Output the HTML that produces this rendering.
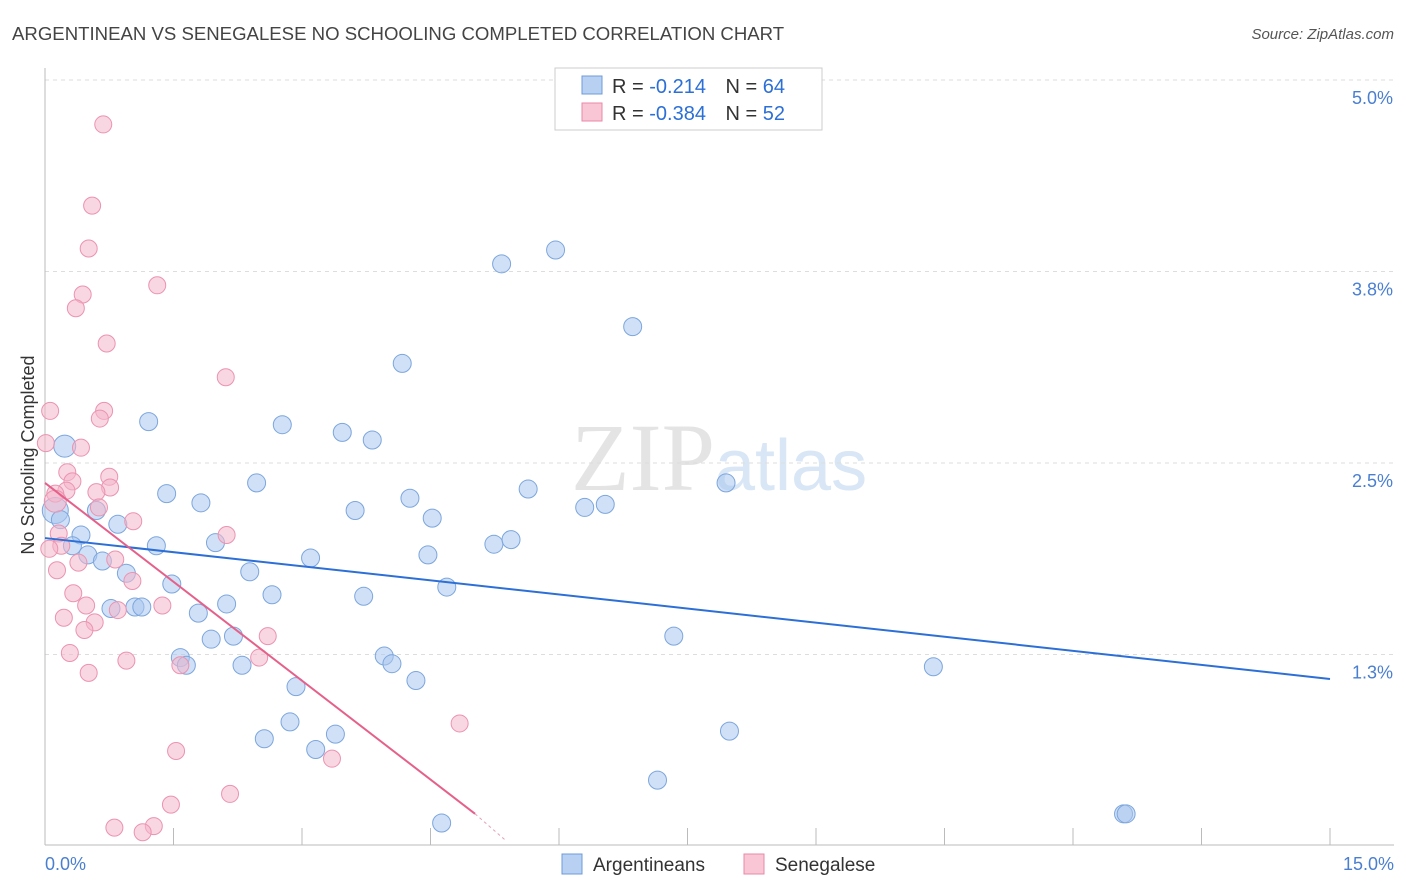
<!DOCTYPE html>
<html><head><meta charset="utf-8">
<style>
body{margin:0;background:#fff;font-family:"Liberation Sans",sans-serif;}
svg{display:block}
</style></head>
<body>
<svg id="chart" width="1406" height="892">
<text x="12" y="40" font-size="18.6" fill="#444">ARGENTINEAN VS SENEGALESE NO SCHOOLING COMPLETED CORRELATION CHART</text>
<text x="1394" y="39" font-size="15" fill="#555" font-style="italic" text-anchor="end">Source: ZipAtlas.com</text>
<text x="715" y="490" font-size="96" fill="#e4e4e4" text-anchor="end" font-family="Liberation Serif">ZIP</text>
<text x="715" y="490" font-size="72" fill="#d8e6f6">atlas</text>
<g id="grid"></g>
<g id="marks"></g>
<text transform="translate(34,455) rotate(-90)" font-size="18" fill="#333" text-anchor="middle">No Schooling Completed</text>
<g>
<rect x="555" y="68" width="267" height="62" fill="#fff" stroke="#ccc"/>
<rect x="582" y="76" width="20" height="18" fill="#b8d0f2" stroke="#6c9bd8"/>
<rect x="582" y="103" width="20" height="18" fill="#f8c6d5" stroke="#e88aa8"/>
<text x="612" y="93" font-size="20" fill="#333">R = <tspan fill="#2c6fd6">-0.214</tspan>  <tspan dx="14">N = </tspan><tspan fill="#2c6fd6">64</tspan></text>
<text x="612" y="120" font-size="20" fill="#333">R = <tspan fill="#2c6fd6">-0.384</tspan>  <tspan dx="14">N = </tspan><tspan fill="#2c6fd6">52</tspan></text>
</g>
<g>
<rect x="562" y="854" width="20" height="20" fill="#b8d0f2" stroke="#6c9bd8"/>
<text x="593" y="871" font-size="19" fill="#333">Argentineans</text>
<rect x="744" y="854" width="20" height="20" fill="#f8c6d5" stroke="#e88aa8"/>
<text x="775" y="871" font-size="19" fill="#333">Senegalese</text>
</g>
</svg>
<script>
const yTicks=[5.0,3.75,2.5,1.25];
const yTickLabels=["5.0%","3.8%","2.5%","1.3%"];
const xTickLabels=["0.0%","15.0%"];
const blueX=[0.23,0.12,1.21,2.77,3.47,3.82,4.17,5.33,5.96,6.86,1.42,1.82,2.47,3.62,4.26,4.52,5.64,6.30,6.54,7.95,0.60,0.85,0.42,0.32,0.50,0.67,0.95,1.30,1.48,1.99,2.39,3.10,4.47,4.69,5.24,5.44,0.77,1.05,1.13,1.79,2.12,2.65,3.72,1.94,2.20,1.58,1.65,2.30,3.96,4.05,4.33,2.93,7.34,10.37,2.86,2.56,3.16,3.39,7.99,7.15,4.63,12.59,12.62,0.18];
const blueY=[2.61,2.19,2.77,2.75,2.70,2.65,3.15,3.80,3.89,3.39,2.30,2.24,2.37,2.19,2.27,2.14,2.33,2.21,2.23,2.37,2.19,2.10,2.03,1.96,1.90,1.86,1.78,1.96,1.71,1.98,1.79,1.88,1.90,1.69,1.97,2.00,1.55,1.56,1.56,1.52,1.58,1.64,1.63,1.35,1.37,1.23,1.18,1.18,1.24,1.19,1.08,1.04,1.37,1.17,0.81,0.70,0.63,0.73,0.75,0.43,0.15,0.21,0.21,2.13];
const blueR=[11,13,9,9,9,9,9,9,9,9,9,9,9,9,9,9,9,9,9,9,9,9,9,9,9,9,9,9,9,9,9,9,9,9,9,9,9,9,9,9,9,9,9,9,9,9,9,9,9,9,9,9,9,9,9,9,9,9,9,9,9,9,9,9];
const pinkX=[0.68,0.55,0.51,1.31,0.44,0.36,0.72,2.11,0.06,0.69,0.64,0.01,0.42,0.26,0.75,0.32,0.76,0.60,0.25,0.12,0.63,1.03,0.16,2.12,0.19,0.05,0.82,0.39,1.02,0.14,0.33,0.48,0.85,1.37,0.22,0.58,0.46,2.60,0.29,0.95,2.50,1.58,0.51,4.84,1.53,3.35,2.16,1.47,1.27,0.81,1.14,0.12];
const pinkY=[4.71,4.18,3.90,3.66,3.60,3.51,3.28,3.06,2.84,2.84,2.79,2.63,2.60,2.44,2.41,2.38,2.34,2.31,2.32,2.30,2.21,2.12,2.04,2.03,1.96,1.94,1.87,1.85,1.73,1.80,1.65,1.57,1.54,1.57,1.49,1.46,1.41,1.37,1.26,1.21,1.23,1.18,1.13,0.80,0.62,0.57,0.34,0.27,0.13,0.12,0.09,2.25];
const blueLine=[[0,2.01],[15,1.09]];
const pinkLine=[[0,2.37],[5.02,0.21]];
const pinkDash=[[5.02,0.21],[5.37,0.04]];
const X0=45,X1=1330,YTOP=80,PPU=153.2;
const sx=v=>X0+v*(X1-X0)/15;
const sy=v=>YTOP+(5-v)*PPU;
const NS="http://www.w3.org/2000/svg";
const grid=document.getElementById('grid'),marks=document.getElementById('marks');
function mk(tag,attrs,parent){const e=document.createElementNS(NS,tag);for(const k in attrs)e.setAttribute(k,attrs[k]);parent.appendChild(e);return e;}
yTicks.forEach((t,i)=>{
 const l=mk('line',{x1:X0,x2:1394,y1:sy(t),y2:sy(t),stroke:'#ddd','stroke-dasharray':'4,4'},grid);
 
 
 const tx=mk('text',{x:1393,y:sy(t)+24,'font-size':18,fill:'#4a7fd0','text-anchor':'end'},grid);
 tx.textContent=yTickLabels[i];
 
 
});
const ax=mk('line',{x1:X0,x2:X0,y1:68,y2:845,stroke:'#bbb'},grid);


const bx=mk('line',{x1:X0,x2:1394,y1:845,y2:845,stroke:'#bbb'},grid);


for(let i=0;i<=10;i++){
 const t=mk('line',{x1:sx(i*1.5),x2:sx(i*1.5),y1:828,y2:845,stroke:'#bbb'},grid);
 
 
}
[[0,'start',45],[15,'end',1394]].forEach((d,i)=>{
 const tx=mk('text',{x:d[2],y:870,'font-size':18,fill:'#4a7fd0','text-anchor':d[1]},grid);
 tx.textContent=xTickLabels[i];
 
 
});
blueX.forEach((v,i)=>{
 const c=mk('circle',{cx:sx(v),cy:sy(blueY[i]),r:blueR[i],fill:'rgba(169,198,239,0.55)',stroke:'#7ca6dd','stroke-width':1},marks);
 
 
});
pinkX.forEach((v,i)=>{
 const c=mk('circle',{cx:sx(v),cy:sy(pinkY[i]),r:i==51?11:8.5,fill:'rgba(244,183,202,0.55)',stroke:'#eb93b0','stroke-width':1},marks);
 
 
});
const bl=mk('line',{x1:sx(blueLine[0][0]),y1:sy(blueLine[0][1]),x2:sx(blueLine[1][0]),y2:sy(blueLine[1][1]),stroke:'#2c6fd6','stroke-width':2},marks);


const pl=mk('line',{x1:sx(pinkLine[0][0]),y1:sy(pinkLine[0][1]),x2:sx(pinkLine[1][0]),y2:sy(pinkLine[1][1]),stroke:'#e5608a','stroke-width':2},marks);


const pd=mk('line',{x1:sx(pinkDash[0][0]),y1:sy(pinkDash[0][1]),x2:sx(pinkDash[1][0]),y2:sy(pinkDash[1][1]),stroke:'#e5a0b8','stroke-width':1,'stroke-dasharray':'3,3'},marks);


</script>
</body></html>
